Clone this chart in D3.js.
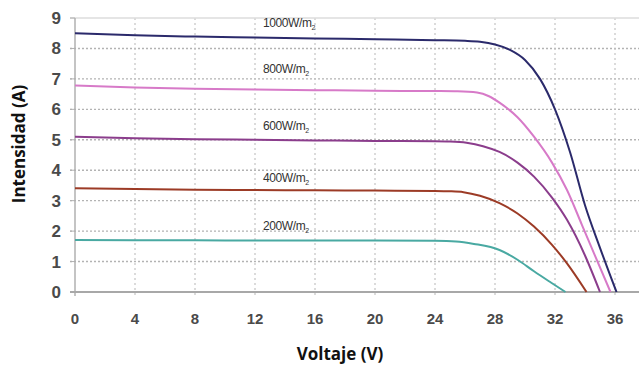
<!DOCTYPE html>
<html>
<head>
<meta charset="utf-8">
<script src="https://cdn.jsdelivr.net/npm/d3@7"></script>
<style>
body { margin: 0; background: #fff; }
</style>
</head>
<body>
<script>
// curve data
var xTicks = [0, 4, 8, 12, 16, 20, 24, 28, 32, 36];
var yTicks = [0, 1, 2, 3, 4, 5, 6, 7, 8, 9];

var v1000 = [0, 4, 8, 12, 16, 20, 24, 26, 27, 28, 29, 30, 31, 32, 33, 34, 35, 36.1];
var i1000 = [8.5, 8.43, 8.39, 8.36, 8.33, 8.3, 8.27, 8.25, 8.22, 8.13, 7.95, 7.62, 7.0, 6.0, 4.6, 2.85, 1.45, 0];

var v800 = [0, 4, 8, 12, 16, 20, 24, 25.5, 26.8, 27.6, 28.3, 29.5, 30.6, 31.8, 32.8, 33.8, 34.6, 35.7];
var i800 = [6.78, 6.72, 6.68, 6.65, 6.63, 6.61, 6.6, 6.59, 6.55, 6.43, 6.22, 5.74, 5.1, 4.25, 3.35, 2.2, 1.27, 0];

var v600 = [0, 4, 8, 12, 16, 20, 24, 25, 26.1, 27.2, 28.3, 29.5, 30.6, 31.8, 32.8, 34, 35.0];
var i600 = [5.1, 5.05, 5.02, 5.0, 4.98, 4.96, 4.95, 4.94, 4.9, 4.79, 4.6, 4.25, 3.79, 3.1, 2.37, 1.2, 0];

var v400 = [0, 4, 8, 12, 16, 20, 24, 25, 25.9, 27, 28.3, 29.5, 30.6, 31.8, 32.8, 34.1];
var i400 = [3.41, 3.38, 3.36, 3.35, 3.34, 3.33, 3.32, 3.31, 3.28, 3.16, 2.92, 2.58, 2.15, 1.55, 0.94, 0];

var v200 = [0, 4, 8, 12, 16, 20, 24, 25.4, 26.6, 28.3, 29.5, 30.6, 31.7, 32.7];
var i200 = [1.71, 1.7, 1.7, 1.69, 1.69, 1.69, 1.68, 1.66, 1.58, 1.38, 1.06, 0.68, 0.32, 0];

var labels = ["1000W/m", "800W/m", "600W/m", "400W/m", "200W/m"];
var colors = ["#2b2a6b", "#d77ac8", "#8b3d8c", "#9c3b26", "#49a9a2"];
var labelY = [8.72, 7.2, 5.33, 3.6, 2.03];

function myChart(){
    var svg = d3.select("body")
        .append("svg")
        .attr("width", 639)
        .attr("height", 365);

    var x = d3.scaleLinear()
        .domain([0, 37.6])
        .range([75, 639]);

    var y = d3.scaleLinear()
        .domain([0, 9])
        .range([292, 18]);

    //grid lines (dotted)
    svg.selectAll(".hgrid")
        .data(yTicks.slice(1, 9))
        .enter()
        .append("line")
        .attr("class", "hgrid")
        .attr("x1", 70)
        .attr("x2", 639)
        .attr("y1", function(d){ return y(d); })
        .attr("y2", function(d){ return y(d); })
        .attr("stroke", "#b3b3b3")
        .attr("stroke-width", 1.4)
        .attr("stroke-dasharray", "2,2");

    svg.selectAll(".vgrid")
        .data(xTicks.slice(1))
        .enter()
        .append("line")
        .attr("class", "vgrid")
        .attr("x1", function(d){ return x(d); })
        .attr("x2", function(d){ return x(d); })
        .attr("y1", y(9))
        .attr("y2", y(0) + 5)
        .attr("stroke", "#c4c4c4")
        .attr("stroke-width", 1.2)
        .attr("stroke-dasharray", "2,3");

    //top border + axes
    svg.append("line")
        .attr("x1", 70).attr("x2", 639)
        .attr("y1", y(9)).attr("y2", y(9))
        .attr("stroke", "#dcdcdc").attr("stroke-width", 1.5);

    svg.append("line")
        .attr("x1", x(0)).attr("x2", x(0))
        .attr("y1", y(9)).attr("y2", y(0) + 4)
        .attr("stroke", "#b0b0b0").attr("stroke-width", 1.5);

    svg.selectAll(".ytick")
        .data(yTicks)
        .enter()
        .append("line")
        .attr("x1", 70).attr("x2", x(0))
        .attr("y1", function(d){ return y(d); })
        .attr("y2", function(d){ return y(d); })
        .attr("stroke", "#b0b0b0");

    svg.append("line")
        .attr("x1", 70).attr("x2", 639)
        .attr("y1", y(0)).attr("y2", y(0))
        .attr("stroke", "#a8a8a8").attr("stroke-width", 2);

    //tick labels
    svg.selectAll(".ylab")
        .data(yTicks)
        .enter()
        .append("text")
        .attr("x", 61)
        .attr("y", function(d){ return y(d) + 6; })
        .attr("text-anchor", "end")
        .style("font-family", "Liberation Sans, Arial, sans-serif")
        .style("font-size", "17px")
        .style("font-weight", "bold")
        .attr("fill", "#4a4a4a")
        .text(function(d){ return d; });

    svg.selectAll(".xlab")
        .data(xTicks)
        .enter()
        .append("text")
        .attr("x", function(d){ return x(d); })
        .attr("y", 324)
        .attr("text-anchor", "middle")
        .style("font-family", "Liberation Sans, Arial, sans-serif")
        .style("font-size", "15px")
        .style("font-weight", "bold")
        .attr("fill", "#4a4a4a")
        .text(function(d){ return d; });

    //axis titles
    svg.append("text")
        .attr("x", 340)
        .attr("y", 360)
        .attr("text-anchor", "middle")
        .style("font-family", "Open Sans, sans-serif")
        .style("font-size", "17px")
        .style("font-weight", "bold")
        .attr("fill", "#111")
        .text("Voltaje (V)");

    svg.append("text")
        .attr("transform", "translate(25,144) rotate(-90)")
        .attr("text-anchor", "middle")
        .style("font-family", "Open Sans, sans-serif")
        .style("font-size", "17px")
        .style("font-weight", "bold")
        .attr("fill", "#111")
        .text("Intensidad (A)");

    //curves
    var series = [
        d3.zip(v1000, i1000),
        d3.zip(v800, i800),
        d3.zip(v600, i600),
        d3.zip(v400, i400),
        d3.zip(v200, i200)
    ];

    var line = d3.line()
        .x(function(d){ return x(d[0]); })
        .y(function(d){ return y(d[1]); })
        .curve(d3.curveMonotoneX);

    svg.selectAll(".curve")
        .data(series)
        .enter()
        .append("path")
        .attr("class", "curve")
        .attr("d", line)
        .attr("fill", "none")
        .attr("stroke", function(d, i){ return colors[i]; })
        .attr("stroke-width", 2);

    //irradiance labels with subscript 2
    var lab = svg.selectAll(".irr")
        .data(labels)
        .enter()
        .append("text")
        .attr("class", "irr")
        .attr("x", 263)
        .attr("y", function(d, i){ return y(labelY[i]); })
        .style("font-family", "Liberation Sans, Arial, sans-serif")
        .style("font-size", "12px")
        .style("letter-spacing", "-0.4px")
        .attr("fill", "#333");
    lab.append("tspan").text(function(d){ return d; });
    lab.append("tspan")
        .attr("dy", 3)
        .style("font-size", "7px")
        .text("2");
}

window.onload = myChart();
</script>
</body>
</html>
